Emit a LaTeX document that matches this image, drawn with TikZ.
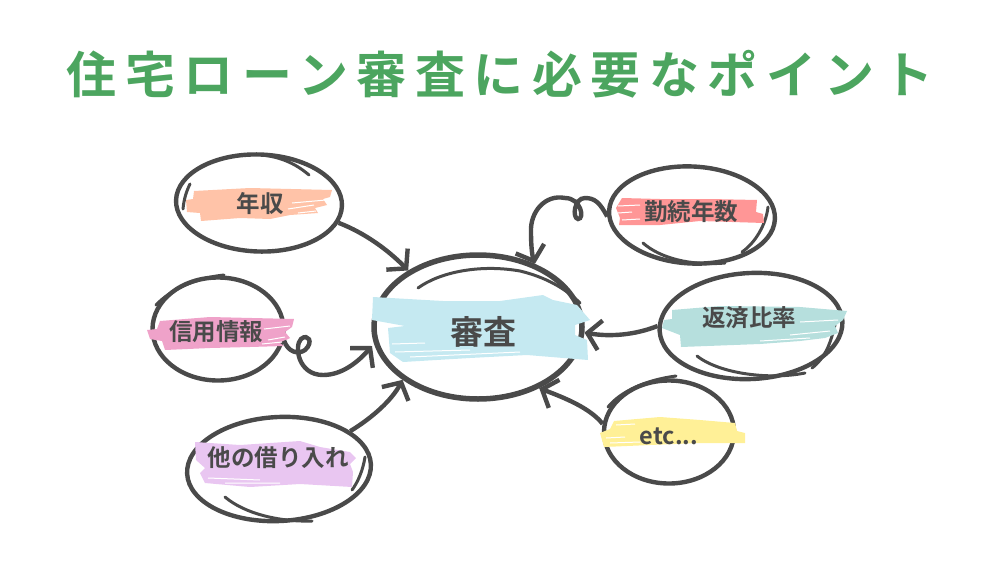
\documentclass[tikz,border=0pt]{standalone}
\usepackage{fontspec}
\setmainfont{Noto Sans CJK JP}[BoldFont={Noto Sans CJK JP Bold}]
\newfontfamily\titlefont{Noto Sans CJK JP Bold}[LetterSpace=17]
\usetikzlibrary{arrows.meta,shapes.geometric}
\definecolor{pen}{HTML}{4A4A4A}
\definecolor{titlegreen}{HTML}{4CA55F}
\definecolor{brushpeach}{HTML}{FFC3A8}
\definecolor{brushpink}{HTML}{EFA2C9}
\definecolor{brushblue}{HTML}{C5E9F1}
\definecolor{brushred}{HTML}{FF9696}
\definecolor{brushteal}{HTML}{B6DFDD}
\definecolor{brushyellow}{HTML}{FFF097}
\definecolor{brushpurple}{HTML}{E9C6F1}

\begin{document}
\begin{tikzpicture}[x=1pt,y=-1pt,
            blob/.style = {draw=pen,ellipse,line width=4.4pt,inner sep=0pt},
            sketch/.style = {draw=pen,line width=3pt,line cap=round},
            streak/.style = {draw=white,line width=1pt},
            link/.style = {draw=pen,line width=4.4pt,-{Straight Barb[length=13pt,width=30pt,line width=4.4pt]}},
            label/.style = {text=pen,font=\bfseries\fontsize{23.5}{25}\selectfont,inner sep=0pt},
            ]
            \useasboundingbox (0,0) rectangle (1000,562);

            \node[text=titlegreen,font=\titlefont\fontsize{50}{54}\selectfont,inner sep=0pt] (title) at (500,74) {住宅ローン審査に必要なポイント};

            % circles
            \node[blob,minimum width=166pt,minimum height=97pt,rotate=-2] (income) at (259,203) {};
            \node[blob,minimum width=131pt,minimum height=103pt] (credit) at (218,329) {};
            \node[blob,minimum width=184pt,minimum height=104pt,rotate=3] (loans) at (279,469) {};
            \node[blob,line width=5.5pt,minimum width=208pt,minimum height=144pt] (review) at (478,327) {};
            \node[blob,minimum width=166pt,minimum height=97pt,rotate=-3] (years) at (692,215) {};
            \node[blob,minimum width=183pt,minimum height=106pt,rotate=3] (ratio) at (751,326) {};
            \node[blob,minimum width=130pt,minimum height=103pt] (other) at (669,432) {};

            % second strokes
            \draw[sketch] (309,175) .. controls (295,163) and (280,157) .. (262,155);
            \draw[sketch] (183,209) .. controls (184,198) and (187,190) .. (190,184);
            \draw[sketch] (156,305) .. controls (170,290) and (195,278) .. (224,275);
            \draw[sketch] (418,288) .. controls (440,272) and (480,264) .. (520,271) .. controls (545,277) and (565,288) .. (580,303);
            \draw[sketch] (643,243) .. controls (660,258) and (690,266) .. (725,263);
            \draw[sketch] (768,207) .. controls (766,225) and (755,243) .. (742,252);
            \draw[sketch] (697,356) .. controls (720,374) and (770,380) .. (805,373);
            \draw[sketch] (835,325) .. controls (830,345) and (825,358) .. (812,368);
            \draw[sketch] (608,407) .. controls (620,392) and (645,380) .. (676,376);
            \draw[sketch] (365,457) .. controls (363,470) and (358,482) .. (352,490);
            \draw[sketch] (225,497) .. controls (245,514) and (280,522) .. (312,521);

            % brush marks
            \fill[brushpeach] (194,191) -- (250,188) -- (332,190) -- (330,197) -- (323,199) -- (327,205) -- (315,208) -- (318,213) -- (290,215) -- (270,219) -- (240,218) -- (201,221) -- (200,213) -- (187,212) -- (186,200) -- (193,199) -- cycle;
            \draw[streak] (292,203) -- (326,200) (288,209) -- (314,205) (298,213) -- (316,211);
            \fill[brushpink] (160,321) -- (210,317) -- (294,319) -- (292,327) -- (285,332) -- (290,338) -- (280,343) -- (284,346) -- (250,347) -- (210,348) -- (165,350) -- (162,341) -- (150,339) -- (147,330) -- (157,329) -- cycle;
            \draw[streak] (264,329) -- (290,326) (268,340) -- (285,337) (262,344) -- (282,342);
            \fill[brushpurple] (195,442) -- (240,445) -- (300,441) -- (320,447) -- (350,452) -- (356,458) -- (350,464) -- (353,472) -- (352,487) -- (300,484) -- (250,487) -- (205,483) -- (200,473) -- (205,468) -- (196,460) -- cycle;
            \draw[streak] (208,478) -- (260,480) (225,483) -- (280,483);
            \fill[brushblue] (373,297) -- (443,301) -- (500,301) -- (543,295) -- (553,300) -- (577,305) -- (590,320) -- (575,325) -- (575,335) -- (587,340) -- (588,360) -- (527,355) -- (470,358) -- (403,362) -- (390,353) -- (388,328) -- (405,326) -- (372,320) -- cycle;
            \draw[streak] (395,352) -- (470,350) (410,357) -- (520,352) (392,344) -- (425,343);
            \fill[brushred] (622,198) -- (660,199) -- (710,199) -- (757,200) -- (756,212) -- (763,214) -- (764,223) -- (700,221) -- (660,225) -- (619,225) -- (620,218) -- (616,208) -- cycle;
            \draw[streak] (618,206) -- (640,205) (618,213) -- (632,212) (622,220) -- (640,219);
            \fill[brushteal] (672,310) -- (720,306) -- (800,307) -- (847,311) -- (843,320) -- (835,326) -- (838,333) -- (825,338) -- (800,341) -- (760,344) -- (681,347) -- (680,335) -- (662,328) -- (664,320) -- (672,319) -- cycle;
            \draw[streak] (800,322) -- (838,320) (790,335) -- (830,331) (760,341) -- (810,338);
            \fill[brushyellow] (614,421) -- (660,417) -- (700,420) -- (735,423) -- (737,431) -- (745,433) -- (745,443) -- (700,443) -- (650,445) -- (604,447) -- (600,433) -- (610,429) -- cycle;
            \draw[streak] (606,438) -- (625,437) (616,425) -- (635,424) (610,443) -- (640,442);

            % labels
            \node[label] (incomelabel) at (260,204) {年収};
            \node[label] (creditlabel) at (216,332) {信用情報};
            \node[label] (loanslabel) at (278,458) {他の借り入れ};
            \node[label,font=\bfseries\fontsize{33}{36}\selectfont] (reviewlabel) at (483,332) {審査};
            \node[label] (yearslabel) at (691,212) {勤続年数};
            \node[label] (ratiolabel) at (749,318) {返済比率};
            \node[label] (otherlabel) at (669,436) {etc...};

            % arrows
            \coordinate (creditend) at (372,346);
            \draw[link] (income.-12) .. controls (365,233) and (388,250) .. (review.141);
            \draw[link] (years.184) .. controls (600,203) and (595,198) .. (585,198) .. controls (574,198) and (572,218) .. (578,219) .. controls (585,219) and (581,198) .. (565,198) .. controls (545,194) and (530,212) .. (531,232) .. controls (531,245) and (532,255) .. (review.48);
            \draw[link] (ratio.177) .. controls (635,335) and (610,337) .. (review.-3);
            \draw[link] (other.173) .. controls (590,408) and (565,398) .. (review.-45);
            \draw[link] (loans.25) .. controls (372,418) and (392,400) .. (review.-145);
            \draw[link] (credit.-10) .. controls (288,352) and (298,355) .. (305,350) .. controls (314,342) and (308,333) .. (301,339) .. controls (294,346) and (298,375) .. (323,375) .. controls (342,375) and (358,362) .. (creditend);
\end{tikzpicture}
\end{document}
